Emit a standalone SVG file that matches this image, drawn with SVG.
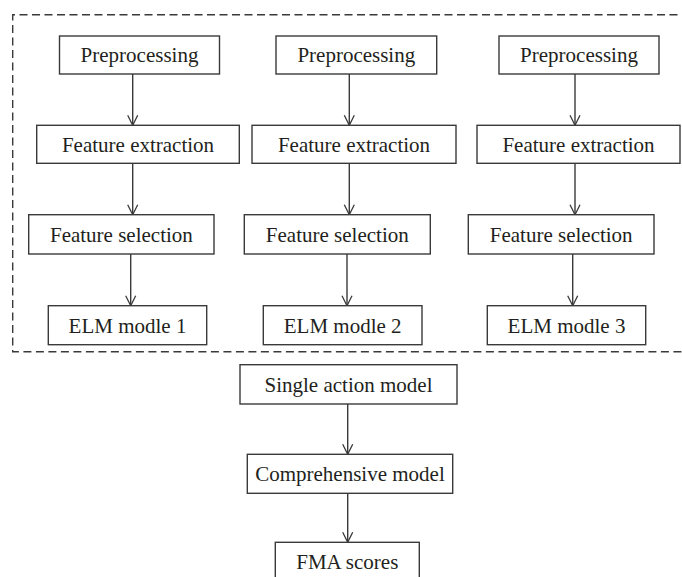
<svg xmlns="http://www.w3.org/2000/svg" width="682" height="577" viewBox="0 0 682 577">
<defs>
<style>
.box{fill:#fff;stroke:#3a3a3a;stroke-width:1.4}
.lbl{font-family:"Liberation Serif","Times New Roman",serif;font-size:21px;fill:#231f20;text-anchor:middle}
.con{stroke:#3a3a3a;stroke-width:1.4;fill:none}
.dash{stroke:#3a3a3a;stroke-width:1.4;fill:none;stroke-dasharray:8 4.5}
</style>
<marker id="arr" viewBox="0 0 12 12" refX="11" refY="6" markerWidth="12" markerHeight="12" markerUnits="userSpaceOnUse" orient="auto">
<path d="M1 1 L11 6 L1 11" fill="none" stroke="#3a3a3a" stroke-width="1.3"/>
</marker>
</defs>
<rect width="682" height="577" fill="#fff"/>
<path class="dash" d="M690 14.7 H12.7 V351.7 H690"/>
<g id="connectors">
<line class="con" x1="132.7" y1="74" x2="132.7" y2="125.3" marker-end="url(#arr)"/>
<line class="con" x1="132.7" y1="163.3" x2="132.7" y2="214.7" marker-end="url(#arr)"/>
<line class="con" x1="130.7" y1="254" x2="130.7" y2="305.7" marker-end="url(#arr)"/>
<line class="con" x1="349.3" y1="74" x2="349.3" y2="125.3" marker-end="url(#arr)"/>
<line class="con" x1="349.3" y1="163.3" x2="349.3" y2="214.7" marker-end="url(#arr)"/>
<line class="con" x1="347" y1="254" x2="347" y2="305.7" marker-end="url(#arr)"/>
<line class="con" x1="575" y1="74" x2="575" y2="125.3" marker-end="url(#arr)"/>
<line class="con" x1="575" y1="163.3" x2="575" y2="214.7" marker-end="url(#arr)"/>
<line class="con" x1="572.7" y1="254" x2="572.7" y2="305.7" marker-end="url(#arr)"/>
<line class="con" x1="347.7" y1="404" x2="347.7" y2="454.3" marker-end="url(#arr)"/>
<line class="con" x1="347.7" y1="493.3" x2="347.7" y2="542.3" marker-end="url(#arr)"/>
</g>
<g id="pre1"><rect class="box" x="59.5" y="36" width="160" height="38"/><text class="lbl" x="139.5" y="62">Preprocessing</text></g>
<g id="fe1"><rect class="box" x="36.7" y="125.3" width="202.6" height="38"/><text class="lbl" x="138" y="151.5">Feature extraction</text></g>
<g id="fs1"><rect class="box" x="28.7" y="214.7" width="185.3" height="39.3"/><text class="lbl" x="121.4" y="241.5">Feature selection</text></g>
<g id="elm1"><rect class="box" x="48.3" y="305.7" width="158.4" height="39"/><text class="lbl" x="127.5" y="332.5">ELM modle 1</text></g>
<g id="pre2"><rect class="box" x="276" y="36" width="160.7" height="38"/><text class="lbl" x="356.3" y="62">Preprocessing</text></g>
<g id="fe2"><rect class="box" x="252" y="125.3" width="204" height="38"/><text class="lbl" x="354" y="151.5">Feature extraction</text></g>
<g id="fs2"><rect class="box" x="244.3" y="214.7" width="186" height="39.3"/><text class="lbl" x="337.3" y="241.5">Feature selection</text></g>
<g id="elm2"><rect class="box" x="263.3" y="305.7" width="158.7" height="39"/><text class="lbl" x="342.7" y="332.5">ELM modle 2</text></g>
<g id="pre3"><rect class="box" x="499" y="36" width="160" height="38"/><text class="lbl" x="579" y="62">Preprocessing</text></g>
<g id="fe3"><rect class="box" x="477" y="125.3" width="203" height="38"/><text class="lbl" x="578.5" y="151.5">Feature extraction</text></g>
<g id="fs3"><rect class="box" x="468.3" y="214.7" width="185.7" height="39.3"/><text class="lbl" x="561.2" y="241.5">Feature selection</text></g>
<g id="elm3"><rect class="box" x="487.3" y="305.7" width="158.4" height="39"/><text class="lbl" x="566.5" y="332.5">ELM modle 3</text></g>
<g id="single"><rect class="box" x="240" y="364.7" width="217" height="39.3"/><text class="lbl" x="348.5" y="391.5">Single action model</text></g>
<g id="comp"><rect class="box" x="247.3" y="454.3" width="205.4" height="39"/><text class="lbl" x="350" y="481">Comprehensive model</text></g>
<g id="fma"><rect class="box" x="275.3" y="542.3" width="144" height="40"/><text class="lbl" x="347.3" y="568.5">FMA scores</text></g>
</svg>
